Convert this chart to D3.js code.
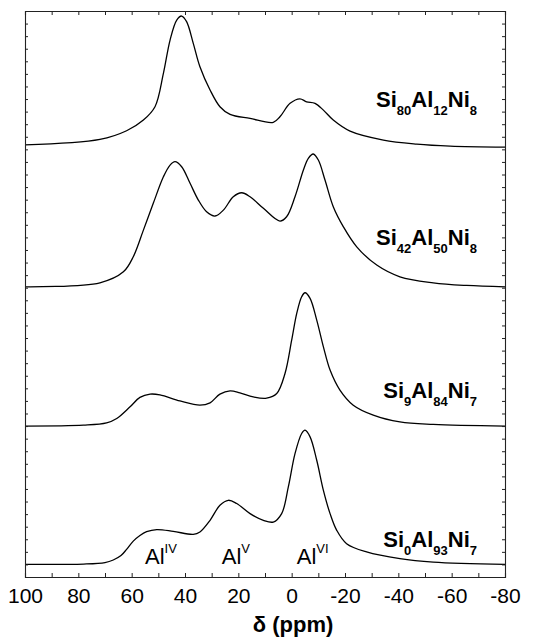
<!DOCTYPE html>
<html>
<head>
<meta charset="utf-8">
<script src="https://cdn.jsdelivr.net/npm/d3@7"></script>
<style>
  html, body { margin: 0; padding: 0; background: #fff; }
  svg { display: block; font-family: "Liberation Sans", Arial, Helvetica, sans-serif; }
</style>
</head>
<body>
<svg id="chart" width="540" height="641"></svg>
<script>
// 27Al MAS NMR spectra, chemical shift in ppm (descending), intensity in arbitrary units
const ppm1 = [100, 71.9, 61.9, 55.6, 51.25, 48.1, 45.6, 43.1, 41.25, 39.4, 36.9, 34.4, 30.6, 26.9, 23.1, 15.6, 6.9, 4.4, 0.6, -3.1, -5.6, -8.75, -11.9, -15.6, -21.9, -34.4, -46.9, -59.4, -80];
const int1 = [0.06, 0.49, 1.18, 2.03, 3.09, 5.74, 8.39, 9.98, 10.30, 9.85, 8.13, 6.27, 4.42, 3.09, 2.48, 2.16, 1.85, 2.29, 3.36, 3.72, 3.48, 3.36, 2.82, 2.03, 1.15, 0.44, 0.12, -0.04, -0.12];

const ppm2 = [100, 71.9, 63.1, 59.4, 55.6, 51.9, 48.1, 45.6, 43.75, 41.25, 38.1, 35, 31.9, 28.75, 25.6, 21.9, 18.75, 15.6, 10.6, 4.4, 1.9, -1.25, -4.4, -6.25, -8.1, -10, -12.5, -15.6, -19.4, -24.4, -31.9, -40.6, -53.1, -65.6, -80];
const int2 = [0.07, 0.39, 1.26, 2.46, 4.58, 6.71, 8.82, 9.75, 10.02, 9.62, 8.30, 6.97, 6.04, 5.70, 6.17, 7.23, 7.55, 7.23, 6.31, 5.30, 5.64, 7.23, 9.36, 10.29, 10.63, 10.15, 8.56, 6.44, 4.84, 3.25, 1.80, 0.87, 0.39, 0.18, 0.07];

const ppm3 = [100, 78.1, 69.4, 65.6, 60.6, 56.9, 53.1, 49.4, 41.9, 34.4, 30.6, 26.9, 23.1, 19.4, 14.4, 9.4, 5.6, 2.5, 0, -1.9, -3.75, -5, -6.9, -9.4, -11.9, -14.4, -18.1, -23.1, -30.6, -40.6, -53.1, -80];
const int3 = [0, 0.07, 0.25, 0.60, 1.53, 2.28, 2.54, 2.48, 2.00, 1.66, 1.85, 2.54, 2.80, 2.64, 2.32, 2.22, 2.59, 4.18, 6.83, 8.96, 10.28, 10.60, 10.15, 8.42, 6.30, 4.45, 2.86, 1.66, 0.87, 0.33, 0.13, 0];

const ppm4 = [100, 78, 70, 66.9, 64, 61.9, 59.4, 56.9, 54.4, 50.6, 44.4, 36.9, 34.4, 30.6, 26.9, 23.75, 20.6, 15.6, 10.6, 6.9, 3.75, 1.25, -1.25, -3.75, -5, -6.9, -9.4, -11.9, -14.4, -16.9, -20.6, -28.1, -40.6, -53.1, -80];
const int4 = [0, 0.03, 0.15, 0.35, 0.7, 1.2, 1.85, 2.3, 2.6, 2.77, 2.63, 2.39, 2.58, 3.51, 4.70, 5.10, 4.84, 4.04, 3.51, 3.37, 4.04, 6.16, 8.81, 10.41, 10.67, 10.14, 8.28, 5.89, 4.04, 2.71, 1.65, 0.99, 0.46, 0.19, 0];

// Sample compositions (element, subscript) and vertical stacking offsets
const samples = [
  [["Si", "80"], ["Al", "12"], ["Ni", "8"]],
  [["Si", "42"], ["Al", "50"], ["Ni", "8"]],
  [["Si", "9"], ["Al", "84"], ["Ni", "7"]],
  [["Si", "0"], ["Al", "93"], ["Ni", "7"]]
];
const offsets = [34.3, 23, 12, 1];
const labelLevels = [3.1, 3.4, 2.2, 1.4];

// Site assignments for aluminium coordination
const siteLabels = [["Al", "IV", 55], ["Al", "V", 26.2], ["Al", "VI", -1.9]];
const siteLevel = 1.0;

const xTicks = d3.range(-80, 101, 10);
const yTicks = d3.range(0, 46, 1);

const series = [[ppm1, int1], [ppm2, int2], [ppm3, int3], [ppm4, int4]];

const svg = d3.select("#chart");
const L = 25, R = 505, T = 11, B = 577;

const x = d3.scaleLinear().domain([100, -80]).range([L, R]);
const y = d3.scaleLinear().domain([0, 45]).range([B, T]);

// spectra
const line = d3.line()
  .x(d => x(d[0]))
  .y(d => y(d[1]))
  .curve(d3.curveCatmullRom.alpha(0.5));

series.forEach(([p, v], i) => {
  const pts = p.map((pp, j) => [pp, v[j] + offsets[i]]);
  svg.append("path")
    .datum(pts)
    .attr("fill", "none")
    .attr("stroke", "#000")
    .attr("stroke-width", 1.3)
    .attr("stroke-linejoin", "round")
    .attr("d", line);
});

// axes
const axisStyle = g => {
  g.selectAll(".domain").attr("stroke", "#222").attr("stroke-width", 1.1);
  g.selectAll(".tick line").attr("stroke", "#222").attr("stroke-width", 1);
};

svg.append("g")
  .attr("transform", `translate(0,${B})`)
  .call(d3.axisBottom(x).tickValues(xTicks).tickSize(-4).tickPadding(11)
    .tickFormat(d => d % 20 === 0 ? String(d) : ""))
  .call(axisStyle)
  .call(g => g.selectAll("text")
    .attr("font-size", 21)
    .attr("font-family", "'Liberation Sans', Arial, sans-serif")
    .attr("fill", "#000"));

svg.append("g")
  .attr("transform", `translate(0,${T})`)
  .call(d3.axisTop(x).tickValues(xTicks).tickSize(-4).tickFormat(""))
  .call(axisStyle);

svg.append("g")
  .attr("transform", `translate(${L},0)`)
  .call(d3.axisLeft(y).tickValues(yTicks).tickSize(-3).tickFormat(""))
  .call(axisStyle);

svg.append("g")
  .attr("transform", `translate(${R},0)`)
  .call(d3.axisRight(y).tickValues(yTicks).tickSize(-3).tickFormat(""))
  .call(axisStyle);

// x-axis title
svg.append("text")
  .attr("x", x(-0.5))
  .attr("y", 632)
  .attr("text-anchor", "middle")
  .attr("font-size", 22)
  .attr("font-weight", "bold")
  .attr("fill", "#000")
  .text("δ (ppm)");

// composition labels: element symbols with lowered subscripts
samples.forEach((parts, i) => {
  const t = svg.append("text")
    .attr("x", x(-69.5))
    .attr("y", y(offsets[i] + labelLevels[i]))
    .attr("text-anchor", "end")
    .attr("font-weight", "bold")
    .attr("fill", "#000");
  parts.forEach(([el, n], k) => {
    t.append("tspan").attr("font-size", 22).attr("dy", k === 0 ? 0 : -8).text(el);
    t.append("tspan").attr("font-size", 13).attr("dy", 8).text(n);
  });
});

// coordination site labels
siteLabels.forEach(([el, sup, pos]) => {
  const t = svg.append("text")
    .attr("x", x(pos))
    .attr("y", y(siteLevel))
    .attr("text-anchor", "start")
    .attr("fill", "#000");
  t.append("tspan").attr("font-size", 22).text(el);
  t.append("tspan").attr("font-size", 13).attr("dy", -11).text(sup);
});
</script>
</body>
</html>
